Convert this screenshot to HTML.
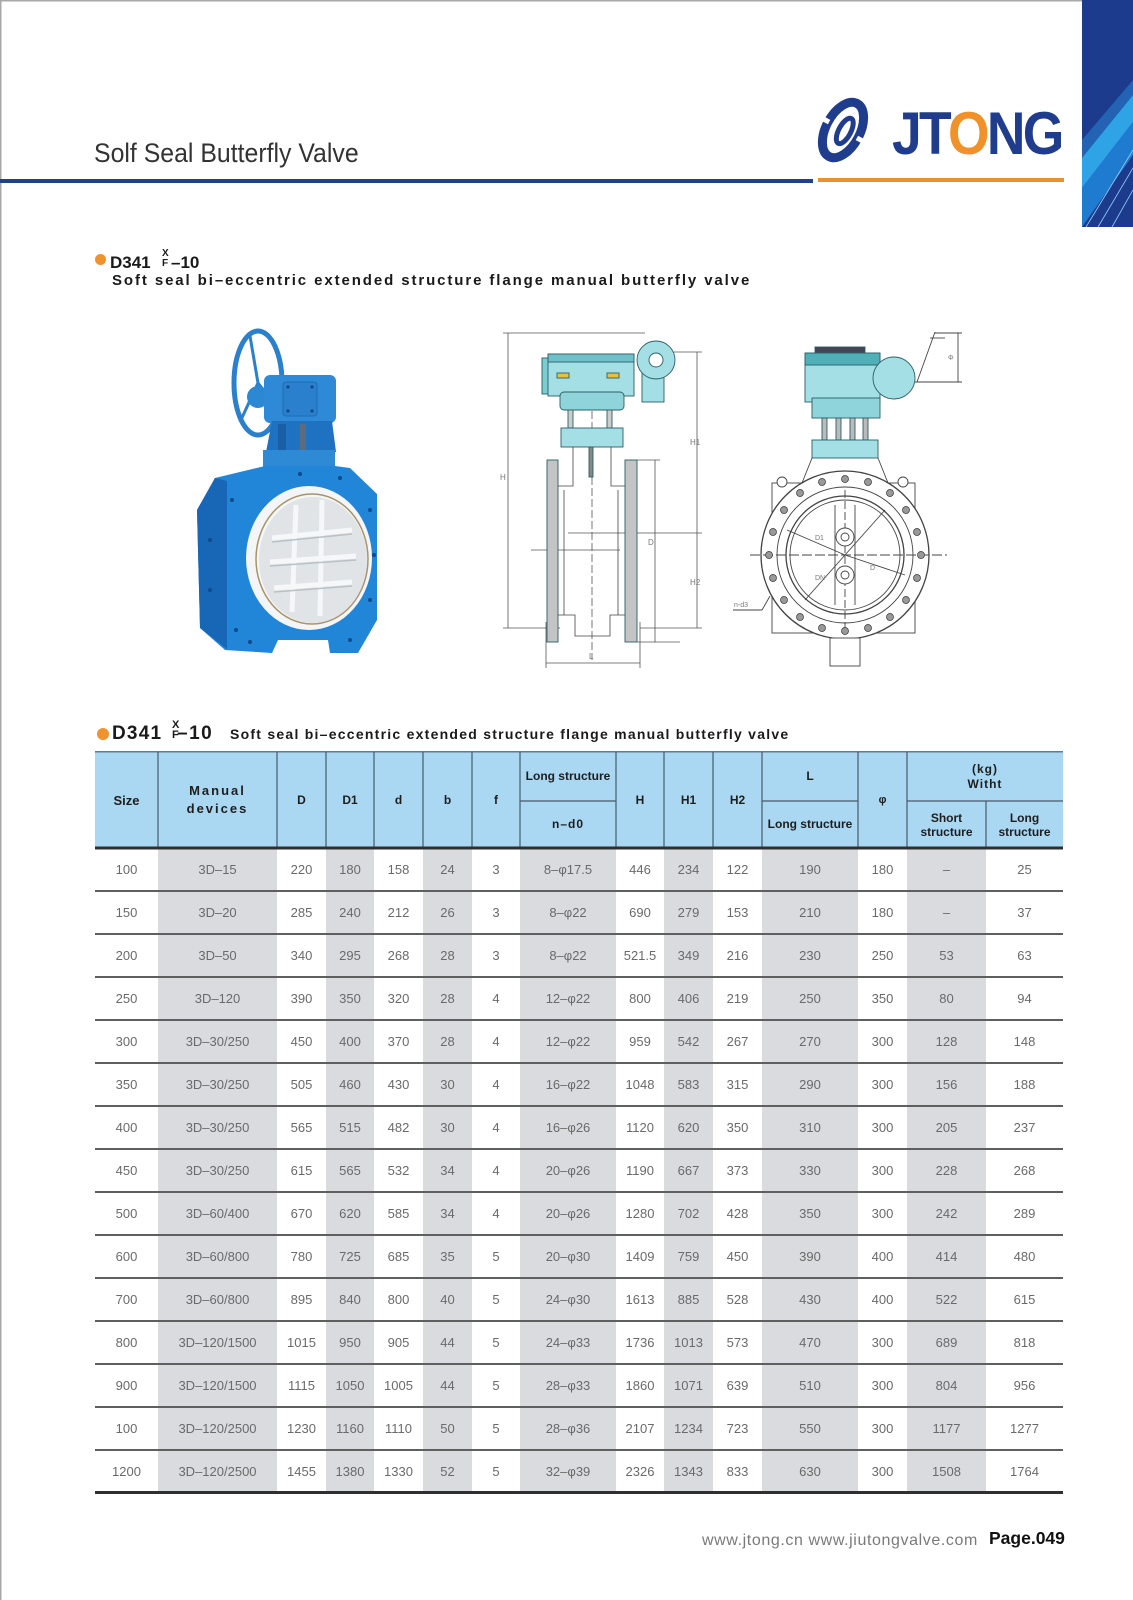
<!DOCTYPE html>
<html><head><meta charset="utf-8">
<style>
*{margin:0;padding:0;box-sizing:border-box}
html,body{width:1133px;height:1600px;background:#fff;overflow:hidden}
body{position:relative;font-family:"Liberation Sans",Arial,sans-serif}
.a{position:absolute;white-space:nowrap}
.h{position:absolute;display:flex;flex-direction:column;align-items:center;justify-content:center;text-align:center;font-weight:bold;font-size:12px;color:#1e1e1e;line-height:15px}
table{position:absolute;left:95px;top:848px;width:968px;border-collapse:separate;border-spacing:0;table-layout:fixed}
td{height:43px;padding:0;text-align:center;vertical-align:middle;font-size:13px;color:#6a6a6a;white-space:nowrap}
td.g{background:#d9dbde}
</style></head><body>

<!-- header background blue -->
<div class="a" style="left:95px;top:752px;width:968px;height:96px;background:#aad7f1"></div>

<table>
<colgroup><col style="width:63px"><col style="width:119px"><col style="width:49px"><col style="width:48px"><col style="width:49px"><col style="width:49px"><col style="width:48px"><col style="width:96px"><col style="width:48px"><col style="width:49px"><col style="width:49px"><col style="width:96px"><col style="width:49px"><col style="width:79px"><col style="width:77px"></colgroup>
<tr><td>100</td><td class="g">3D–15</td><td>220</td><td class="g">180</td><td>158</td><td class="g">24</td><td>3</td><td class="g">8–φ17.5</td><td>446</td><td class="g">234</td><td>122</td><td class="g">190</td><td>180</td><td class="g">–</td><td>25</td></tr>
<tr><td>150</td><td class="g">3D–20</td><td>285</td><td class="g">240</td><td>212</td><td class="g">26</td><td>3</td><td class="g">8–φ22</td><td>690</td><td class="g">279</td><td>153</td><td class="g">210</td><td>180</td><td class="g">–</td><td>37</td></tr>
<tr><td>200</td><td class="g">3D–50</td><td>340</td><td class="g">295</td><td>268</td><td class="g">28</td><td>3</td><td class="g">8–φ22</td><td>521.5</td><td class="g">349</td><td>216</td><td class="g">230</td><td>250</td><td class="g">53</td><td>63</td></tr>
<tr><td>250</td><td class="g">3D–120</td><td>390</td><td class="g">350</td><td>320</td><td class="g">28</td><td>4</td><td class="g">12–φ22</td><td>800</td><td class="g">406</td><td>219</td><td class="g">250</td><td>350</td><td class="g">80</td><td>94</td></tr>
<tr><td>300</td><td class="g">3D–30/250</td><td>450</td><td class="g">400</td><td>370</td><td class="g">28</td><td>4</td><td class="g">12–φ22</td><td>959</td><td class="g">542</td><td>267</td><td class="g">270</td><td>300</td><td class="g">128</td><td>148</td></tr>
<tr><td>350</td><td class="g">3D–30/250</td><td>505</td><td class="g">460</td><td>430</td><td class="g">30</td><td>4</td><td class="g">16–φ22</td><td>1048</td><td class="g">583</td><td>315</td><td class="g">290</td><td>300</td><td class="g">156</td><td>188</td></tr>
<tr><td>400</td><td class="g">3D–30/250</td><td>565</td><td class="g">515</td><td>482</td><td class="g">30</td><td>4</td><td class="g">16–φ26</td><td>1120</td><td class="g">620</td><td>350</td><td class="g">310</td><td>300</td><td class="g">205</td><td>237</td></tr>
<tr><td>450</td><td class="g">3D–30/250</td><td>615</td><td class="g">565</td><td>532</td><td class="g">34</td><td>4</td><td class="g">20–φ26</td><td>1190</td><td class="g">667</td><td>373</td><td class="g">330</td><td>300</td><td class="g">228</td><td>268</td></tr>
<tr><td>500</td><td class="g">3D–60/400</td><td>670</td><td class="g">620</td><td>585</td><td class="g">34</td><td>4</td><td class="g">20–φ26</td><td>1280</td><td class="g">702</td><td>428</td><td class="g">350</td><td>300</td><td class="g">242</td><td>289</td></tr>
<tr><td>600</td><td class="g">3D–60/800</td><td>780</td><td class="g">725</td><td>685</td><td class="g">35</td><td>5</td><td class="g">20–φ30</td><td>1409</td><td class="g">759</td><td>450</td><td class="g">390</td><td>400</td><td class="g">414</td><td>480</td></tr>
<tr><td>700</td><td class="g">3D–60/800</td><td>895</td><td class="g">840</td><td>800</td><td class="g">40</td><td>5</td><td class="g">24–φ30</td><td>1613</td><td class="g">885</td><td>528</td><td class="g">430</td><td>400</td><td class="g">522</td><td>615</td></tr>
<tr><td>800</td><td class="g">3D–120/1500</td><td>1015</td><td class="g">950</td><td>905</td><td class="g">44</td><td>5</td><td class="g">24–φ33</td><td>1736</td><td class="g">1013</td><td>573</td><td class="g">470</td><td>300</td><td class="g">689</td><td>818</td></tr>
<tr><td>900</td><td class="g">3D–120/1500</td><td>1115</td><td class="g">1050</td><td>1005</td><td class="g">44</td><td>5</td><td class="g">28–φ33</td><td>1860</td><td class="g">1071</td><td>639</td><td class="g">510</td><td>300</td><td class="g">804</td><td>956</td></tr>
<tr><td>100</td><td class="g">3D–120/2500</td><td>1230</td><td class="g">1160</td><td>1110</td><td class="g">50</td><td>5</td><td class="g">28–φ36</td><td>2107</td><td class="g">1234</td><td>723</td><td class="g">550</td><td>300</td><td class="g">1177</td><td>1277</td></tr>
<tr><td>1200</td><td class="g">3D–120/2500</td><td>1455</td><td class="g">1380</td><td>1330</td><td class="g">52</td><td>5</td><td class="g">32–φ39</td><td>2326</td><td class="g">1343</td><td>833</td><td class="g">630</td><td>300</td><td class="g">1508</td><td>1764</td></tr>
</table>

<svg class="a" style="left:0;top:0" width="1133" height="1600" viewBox="0 0 1133 1600">
<!-- page frame -->
<rect x="0" y="0" width="1082" height="1.5" fill="#a8a8a8"/>
<rect x="0" y="0" width="1.5" height="1600" fill="#a8a8a8"/>
<!-- title rules -->
<rect x="0" y="179" width="813" height="4" fill="#23408e"/>
<rect x="818" y="178" width="246" height="4" fill="#e8912e"/>
<!-- side bar -->
<rect x="1082" y="0" width="51" height="227" fill="#1c3b8d"/>
<polygon points="1082,140 1133,80 1133,95 1082,158" fill="#2462b4"/>
<polygon points="1082,158 1133,95 1133,122 1082,188" fill="#2ea3e6"/>
<polygon points="1082,188 1133,122 1133,155 1082,227" fill="#1f7bd0"/>
<line x1="1086" y1="227" x2="1133" y2="150" stroke="#8fd0f5" stroke-width="0.8"/>
<line x1="1098" y1="227" x2="1133" y2="168" stroke="#8fd0f5" stroke-width="0.8"/>
<line x1="1112" y1="227" x2="1133" y2="190" stroke="#8fd0f5" stroke-width="0.8"/>
<!-- logo icon -->
<g transform="translate(843,130) rotate(28)">
<ellipse cx="0" cy="0" rx="17" ry="30" fill="none" stroke="#1f3d8c" stroke-width="9"/>
<rect x="-30" y="-3" width="14" height="5" fill="#fff"/>
<rect x="16" y="-2" width="14" height="5" fill="#fff"/>
<ellipse cx="2" cy="0" rx="6" ry="14" fill="none" stroke="#1f3d8c" stroke-width="5"/>
</g>

<!-- ===== photo ===== -->
<g>
<ellipse cx="258" cy="383" rx="24" ry="52" fill="none" stroke="#2b80cc" stroke-width="5"/>
<line x1="258" y1="383" x2="250" y2="336" stroke="#2b80cc" stroke-width="3"/>
<line x1="258" y1="383" x2="240" y2="422" stroke="#2b80cc" stroke-width="3"/>
<line x1="258" y1="383" x2="279" y2="410" stroke="#2b80cc" stroke-width="3"/>
<circle cx="258" cy="397" r="11" fill="#2d88d4"/>
<rect x="264" y="375" width="72" height="48" rx="6" fill="#2e8ad6"/>
<rect x="283" y="382" width="34" height="34" rx="3" fill="#2a80cc" stroke="#1f6bb5"/>
<circle cx="288" cy="387" r="1.6" fill="#0f4a8a"/><circle cx="312" cy="387" r="1.6" fill="#0f4a8a"/>
<circle cx="288" cy="411" r="1.6" fill="#0f4a8a"/><circle cx="312" cy="411" r="1.6" fill="#0f4a8a"/>
<polygon points="272,421 332,421 336,452 266,452" fill="#1f72c2"/>
<rect x="278" y="424" width="8" height="26" fill="#1b5ea8"/>
<rect x="300" y="424" width="6" height="26" fill="#5a6d80"/>
<rect x="263" y="450" width="72" height="17" fill="#2f8ad6"/>
<path d="M215 478 L265 466 L335 466 L350 468 L377 494 L377 620 L358 653 L330 653 L328 640 L278 640 L272 653 L225 650 L200 628 L197 510 Z" fill="#2186d8"/>
<path d="M197 510 L215 478 L227 481 L227 649 L200 628 Z" fill="#1866b6"/>
<g fill="#0f4a8a">
<circle cx="232" cy="500" r="2"/><circle cx="236" cy="630" r="2"/><circle cx="370" cy="510" r="2"/><circle cx="370" cy="600" r="2"/>
<circle cx="350" cy="640" r="2"/><circle cx="250" cy="642" r="2"/><circle cx="300" cy="474" r="2"/><circle cx="340" cy="478" r="2"/>
<circle cx="210" cy="540" r="2"/><circle cx="210" cy="590" r="2"/><circle cx="374" cy="555" r="2"/>
</g>
<ellipse cx="309" cy="558" rx="63" ry="72" fill="#f3f5f7"/>
<ellipse cx="312" cy="559" rx="56" ry="65" fill="none" stroke="#a8946a" stroke-width="1.5"/>
<ellipse cx="313" cy="560" rx="54" ry="63" fill="#e0e4e7"/>
<g stroke="#f6f7f8" stroke-width="5">
<line x1="272" y1="538" x2="352" y2="530"/><line x1="270" y1="562" x2="356" y2="556"/><line x1="274" y1="588" x2="352" y2="582"/>
<line x1="296" y1="505" x2="292" y2="612"/><line x1="322" y1="500" x2="320" y2="616"/>
</g>
<g stroke="#b9c0c6" stroke-width="1.5">
<line x1="272" y1="542" x2="352" y2="534"/><line x1="270" y1="566" x2="356" y2="560"/><line x1="274" y1="592" x2="352" y2="586"/>
</g>
</g>

<!-- ===== center drawing ===== -->
<g stroke="#555" stroke-width="0.8" fill="none">
<line x1="508" y1="333" x2="508" y2="628"/>
<line x1="503" y1="333" x2="645" y2="333"/>
<line x1="503" y1="628" x2="560" y2="628"/>
<line x1="697" y1="352" x2="697" y2="628"/>
<line x1="640" y1="352" x2="702" y2="352"/>
<line x1="640" y1="628" x2="702" y2="628"/>
<line x1="655" y1="460" x2="655" y2="642"/>
<line x1="637" y1="460" x2="660" y2="460"/>
<line x1="637" y1="642" x2="680" y2="642"/>
<line x1="546" y1="663" x2="640" y2="663"/>
<line x1="546" y1="622" x2="546" y2="668"/>
<line x1="640" y1="622" x2="640" y2="668"/>
<line x1="592" y1="400" x2="592" y2="660" stroke-dasharray="8,3"/>
<line x1="568" y1="533" x2="702" y2="533"/>
<line x1="531" y1="550" x2="620" y2="550"/>
</g>
<g stroke="#2b5f66" stroke-width="0.9">
<rect x="542" y="358" width="8" height="36" fill="#7fcbd2"/>
<rect x="548" y="354" width="86" height="42" fill="#a3dfe4"/>
<rect x="548" y="354" width="86" height="8" fill="#6fc0c8"/>
<rect x="557" y="373" width="12" height="5" fill="#e8c040"/>
<rect x="607" y="373" width="12" height="5" fill="#e8c040"/>
<rect x="642" y="370" width="22" height="32" fill="#a3dfe4"/>
<circle cx="656" cy="360" r="19" fill="#a3dfe4"/>
<circle cx="656" cy="360" r="7" fill="#fff"/>
<rect x="560" y="392" width="64" height="18" rx="4" fill="#8fd4da"/>
<rect x="568" y="410" width="5" height="18" fill="#ccc"/>
<rect x="607" y="410" width="5" height="18" fill="#ccc"/>
<rect x="561" y="428" width="62" height="19" fill="#a3dfe4"/>
<rect x="589" y="447" width="4" height="30" fill="#888"/>
<rect x="547" y="460" width="11" height="182" fill="#c4c4c4"/>
<rect x="625" y="460" width="12" height="182" fill="#c4c4c4"/>
</g>
<g stroke="#444" stroke-width="0.8" fill="none">
<polyline points="573,447 573,486 558,486"/>
<polyline points="611,447 611,486 625,486"/>
<line x1="564" y1="490" x2="564" y2="615"/>
<line x1="618" y1="490" x2="618" y2="615"/>
<polyline points="558,615 575,615 575,636 610,636 610,615 625,615"/>
</g>
<g font-family="Liberation Sans, sans-serif" font-size="8" fill="#777">
<text x="500" y="480">H</text><text x="690" y="445">H1</text><text x="648" y="545">D</text><text x="690" y="585">H2</text><text x="589" y="659">L</text>
</g>

<!-- ===== right drawing ===== -->
<g stroke="#2b5f66" stroke-width="0.9">
<rect x="815" y="347" width="50" height="7" fill="#445"/>
<rect x="805" y="353" width="75" height="49" fill="#a3dfe4"/>
<rect x="805" y="353" width="75" height="12" fill="#4fb0b8"/>
<circle cx="894" cy="378" r="21" fill="#a3dfe4"/>
<rect x="812" y="398" width="68" height="20" fill="#8fd4da"/>
<rect x="822" y="418" width="5" height="22" fill="#bbb"/>
<rect x="836" y="418" width="5" height="22" fill="#bbb"/>
<rect x="850" y="418" width="5" height="22" fill="#bbb"/>
<rect x="863" y="418" width="5" height="22" fill="#bbb"/>
<rect x="812" y="440" width="66" height="18" fill="#a3dfe4"/>
</g>
<g stroke="#444" stroke-width="0.9" fill="none">
<line x1="917" y1="382" x2="935" y2="332"/>
<line x1="930" y1="338" x2="945" y2="338"/>
<line x1="958" y1="333" x2="958" y2="382"/>
<line x1="935" y1="333" x2="962" y2="333"/>
<line x1="915" y1="382" x2="962" y2="382"/>
<line x1="812" y1="458" x2="802" y2="483"/>
<line x1="878" y1="458" x2="888" y2="483"/>
<rect x="772" y="483" width="143" height="150"/>
<circle cx="845" cy="555" r="84" fill="#fff" stroke-width="1.3"/>
<circle cx="845" cy="555" r="68"/>
<circle cx="845" cy="555" r="59" stroke-width="1.3"/>
<circle cx="845" cy="555" r="55"/>
<line x1="750" y1="555" x2="947" y2="555" stroke-dasharray="10,3"/>
<line x1="845" y1="490" x2="845" y2="630" stroke-dasharray="8,3"/>
<line x1="787" y1="530" x2="845" y2="555"/>
<line x1="845" y1="555" x2="905" y2="575"/>
<line x1="805" y1="600" x2="845" y2="555"/>
<line x1="845" y1="555" x2="885" y2="510"/>
<line x1="835" y1="505" x2="835" y2="605"/><line x1="855" y1="505" x2="855" y2="605"/>
<circle cx="845" cy="537" r="9" fill="#fff"/><circle cx="845" cy="537" r="4"/>
<circle cx="845" cy="575" r="9" fill="#fff"/><circle cx="845" cy="575" r="4"/>
<rect x="830" y="638" width="30" height="28" fill="#fff"/>
<circle cx="782" cy="482" r="5" fill="#fff"/>
<circle cx="903" cy="482" r="5" fill="#fff"/>
<line x1="733" y1="610" x2="762" y2="610"/><line x1="762" y1="610" x2="770" y2="596"/>
</g>
<g fill="#999" stroke="#333" stroke-width="0.7">
<circle cx="921" cy="555" r="3.5"/><circle cx="917" cy="578" r="3.5"/><circle cx="906" cy="600" r="3.5"/><circle cx="890" cy="617" r="3.5"/><circle cx="868" cy="628" r="3.5"/>
<circle cx="845" cy="631" r="3.5"/><circle cx="822" cy="628" r="3.5"/><circle cx="800" cy="617" r="3.5"/><circle cx="784" cy="600" r="3.5"/><circle cx="773" cy="578" r="3.5"/>
<circle cx="769" cy="555" r="3.5"/><circle cx="773" cy="532" r="3.5"/><circle cx="784" cy="510" r="3.5"/><circle cx="800" cy="493" r="3.5"/><circle cx="822" cy="482" r="3.5"/>
<circle cx="845" cy="479" r="3.5"/><circle cx="868" cy="482" r="3.5"/><circle cx="890" cy="493" r="3.5"/><circle cx="906" cy="510" r="3.5"/><circle cx="917" cy="532" r="3.5"/>
</g>
<g font-family="Liberation Sans, sans-serif" font-size="7" fill="#777">
<text x="734" y="607">n-d3</text><text x="815" y="540">D1</text><text x="815" y="580">DN</text><text x="870" y="570">D</text><text x="948" y="360">Φ</text>
</g>

<!-- ===== table lines ===== -->
<rect x="95" y="751" width="968" height="1.5" fill="#5d7d93"/>
<g stroke="#46596a" stroke-width="1.2">
<line x1="158" y1="752" x2="158" y2="848"/><line x1="277" y1="752" x2="277" y2="848"/>
<line x1="326" y1="752" x2="326" y2="848"/><line x1="374" y1="752" x2="374" y2="848"/>
<line x1="423" y1="752" x2="423" y2="848"/><line x1="472" y1="752" x2="472" y2="848"/>
<line x1="520" y1="752" x2="520" y2="848"/><line x1="616" y1="752" x2="616" y2="848"/>
<line x1="664" y1="752" x2="664" y2="848"/><line x1="713" y1="752" x2="713" y2="848"/>
<line x1="762" y1="752" x2="762" y2="848"/><line x1="858" y1="752" x2="858" y2="848"/>
<line x1="907" y1="752" x2="907" y2="848"/><line x1="986" y1="801" x2="986" y2="848"/>
<line x1="520" y1="801" x2="616" y2="801"/><line x1="762" y1="801" x2="858" y2="801"/><line x1="907" y1="801" x2="1063" y2="801"/>
</g>
<rect x="95" y="846.5" width="968" height="3" fill="#2f2f2f"/>
<g fill="#5f5f5f">
<rect x="95" y="890" width="968" height="2"/><rect x="95" y="933" width="968" height="2"/>
<rect x="95" y="976" width="968" height="2"/><rect x="95" y="1019" width="968" height="2"/>
<rect x="95" y="1062" width="968" height="2"/><rect x="95" y="1105" width="968" height="2"/>
<rect x="95" y="1148" width="968" height="2"/><rect x="95" y="1191" width="968" height="2"/>
<rect x="95" y="1234" width="968" height="2"/><rect x="95" y="1277" width="968" height="2"/>
<rect x="95" y="1320" width="968" height="2"/><rect x="95" y="1363" width="968" height="2"/>
<rect x="95" y="1406" width="968" height="2"/><rect x="95" y="1449" width="968" height="2"/>
</g>
<rect x="95" y="1491" width="968" height="3" fill="#2f2f2f"/>
</svg>

<!-- logo text -->
<div class="a" style="left:892px;top:104px;font-size:60px;line-height:60px;font-weight:bold;color:#1f3d8c;letter-spacing:-3px;transform:scaleX(0.89);transform-origin:0 0">JT<span style="color:#f0912a">O</span>NG</div>

<!-- page title -->
<div class="a" style="left:94px;top:140px;font-size:27px;line-height:27px;color:#333;transform:scaleX(0.92);transform-origin:0 0">Solf Seal Butterfly Valve</div>

<!-- subtitle 1 -->
<div class="a" style="left:95px;top:254px;width:11px;height:11px;border-radius:50%;background:#f0922e"></div>
<div class="a" style="left:110px;top:253.6px;font-size:17px;line-height:17px;font-weight:bold;color:#1a1a1a">D341</div>
<div class="a" style="left:162px;top:248.5px;font-size:10px;line-height:10px;font-weight:bold;color:#1a1a1a">X</div>
<div class="a" style="left:162px;top:258.5px;font-size:10px;line-height:10px;font-weight:bold;color:#1a1a1a">F</div>
<div class="a" style="left:171px;top:253.6px;font-size:17px;line-height:17px;font-weight:bold;color:#1a1a1a">–10</div>
<div class="a" style="left:112px;top:273px;font-size:15px;line-height:15px;font-weight:bold;color:#1a1a1a;letter-spacing:1.9px">Soft seal bi–eccentric extended structure flange manual butterfly valve</div>

<!-- subtitle 2 -->
<div class="a" style="left:97px;top:728px;width:12px;height:12px;border-radius:50%;background:#f0922e"></div>
<div class="a" style="left:112px;top:724px;font-size:19px;line-height:19px;font-weight:bold;color:#1a1a1a;letter-spacing:1.2px">D341</div>
<div class="a" style="left:172px;top:719.5px;font-size:11px;line-height:11px;font-weight:bold;color:#1a1a1a">X</div>
<div class="a" style="left:172px;top:729.5px;font-size:11px;line-height:11px;font-weight:bold;color:#1a1a1a">F</div>
<div class="a" style="left:177px;top:724px;font-size:19px;line-height:19px;font-weight:bold;color:#1a1a1a;letter-spacing:1.5px">–10</div>
<div class="a" style="left:230px;top:726.5px;font-size:14px;line-height:14px;font-weight:bold;color:#1a1a1a;letter-spacing:1.25px">Soft seal bi–eccentric extended structure flange manual butterfly valve</div>

<!-- header texts -->
<div class="h" style="left:95px;top:752px;width:63px;height:96px;font-size:13px">Size</div>
<div class="h" style="left:158px;top:752px;width:119px;height:96px;font-size:13px;letter-spacing:2px;line-height:18px"><span>Manual</span><span>devices</span></div>
<div class="h" style="left:277px;top:752px;width:49px;height:96px">D</div>
<div class="h" style="left:326px;top:752px;width:48px;height:96px">D1</div>
<div class="h" style="left:374px;top:752px;width:49px;height:96px">d</div>
<div class="h" style="left:423px;top:752px;width:49px;height:96px">b</div>
<div class="h" style="left:472px;top:752px;width:48px;height:96px">f</div>
<div class="h" style="left:520px;top:752px;width:96px;height:49px">Long structure</div>
<div class="h" style="left:520px;top:801px;width:96px;height:47px;letter-spacing:1px">n–d0</div>
<div class="h" style="left:616px;top:752px;width:48px;height:96px">H</div>
<div class="h" style="left:664px;top:752px;width:49px;height:96px">H1</div>
<div class="h" style="left:713px;top:752px;width:49px;height:96px">H2</div>
<div class="h" style="left:762px;top:752px;width:96px;height:49px">L</div>
<div class="h" style="left:762px;top:801px;width:96px;height:47px">Long structure</div>
<div class="h" style="left:858px;top:752px;width:49px;height:96px;font-size:11px">φ</div>
<div class="h" style="left:907px;top:752px;width:156px;height:49px;letter-spacing:1px"><span>(kg)</span><span>Witht</span></div>
<div class="h" style="left:907px;top:801px;width:79px;height:47px;line-height:14px"><span>Short</span><span>structure</span></div>
<div class="h" style="left:986px;top:801px;width:77px;height:47px;line-height:14px"><span>Long</span><span>structure</span></div>

<!-- footer -->
<div class="a" style="left:702px;top:1532.5px;font-size:16px;line-height:16px;color:#7a7a7a;letter-spacing:0.6px">www.jtong.cn www.jiutongvalve.com</div>
<div class="a" style="left:989px;top:1530px;font-size:17.5px;line-height:17.5px;font-weight:bold;color:#111">Page.049</div>

</body></html>
